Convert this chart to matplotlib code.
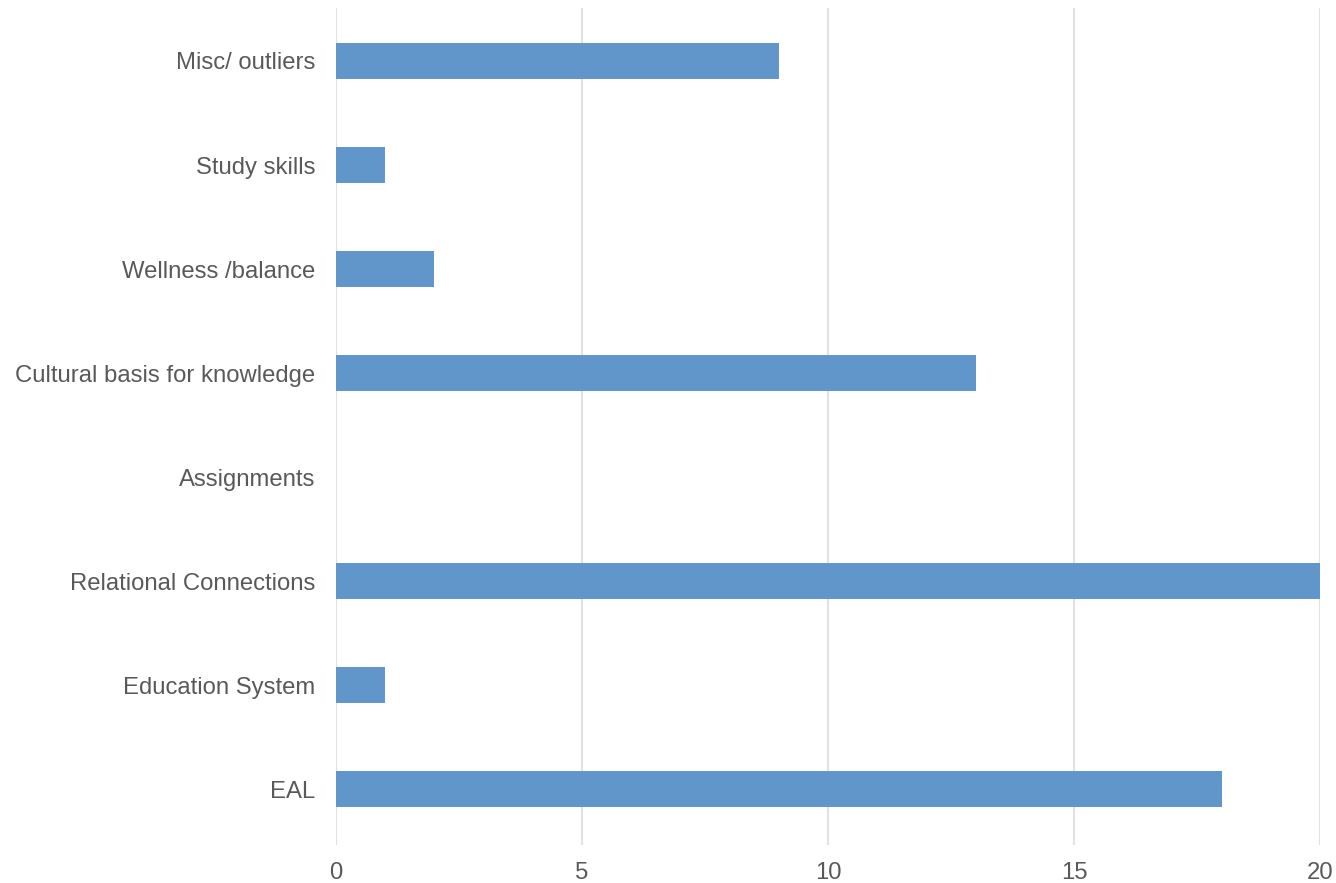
import matplotlib
matplotlib.use("Agg")
import matplotlib.pyplot as plt

categories = ["EAL", "Education System", "Relational Connections", "Assignments",
              "Cultural basis for knowledge", "Wellness /balance", "Study skills",
              "Misc/ outliers"]
counts = [18, 1, 20, 0, 13, 2, 1, 9]
xticks = [0, 5, 10, 15, 20]

plt.rcParams["font.family"] = ["Liberation Sans", "DejaVu Sans"]

fig = plt.figure(figsize=(13.36, 8.83), dpi=100)
ax = fig.add_axes([0.2515, 0.043, 0.7365, 0.948])

ypos = range(len(categories))
ax.barh(ypos, counts, height=0.35, color="#6096c9", zorder=3)

ax.set_xlim(0, 20)
ax.set_ylim(-0.538, len(categories) - 0.49)
ax.set_xticks(xticks)
ax.set_xticklabels([str(t) for t in xticks])
ax.set_yticks(list(ypos))
ax.set_yticklabels(categories)

ax.grid(axis="x", color="#e2e2e2", linewidth=1.5, zorder=0)
ax.grid(axis="y", visible=False)
for s in ax.spines.values():
    s.set_visible(False)
ax.tick_params(axis="both", length=0, labelsize=17.2, labelcolor="#595959")
ax.tick_params(axis="y", pad=15)
ax.tick_params(axis="x", pad=12)

fig.savefig("out.png", dpi=100, facecolor="white")
